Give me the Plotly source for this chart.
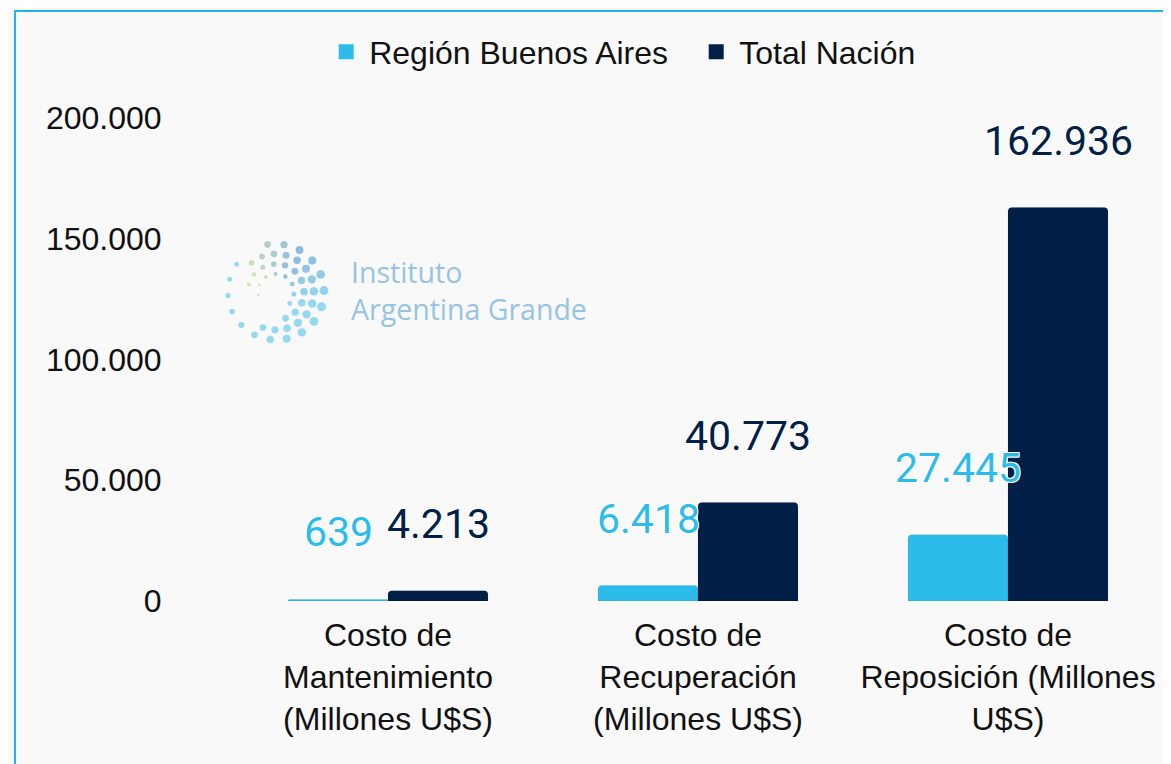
import math
import plotly.graph_objects as go

categorias = [
    "Costo de<br>Mantenimiento<br>(Millones U$S)",
    "Costo de<br>Recuperación<br>(Millones U$S)",
    "Costo de<br>Reposición (Millones<br>U$S)",
]
series = ["Región Buenos Aires", "Total Nación"]
region_ba = [639, 6418, 27445]
total_nacion = [4213, 40773, 162936]
y_ticks = [0, 50000, 100000, 150000, 200000]

CELESTE = "#2BBCEC"
AZUL = "#011F47"
FONDO = "#F9F9F9"


def fmt(v):
    return f"{v:,}".replace(",", ".")


fig = go.Figure()
for nombre, vals, color in [(series[0], region_ba, CELESTE), (series[1], total_nacion, AZUL)]:
    fig.add_trace(go.Bar(x=categorias, y=vals, name=nombre, showlegend=False,
                         marker=dict(color=color, cornerradius=4,
                                     line=dict(color="rgba(0,0,0,0.15)", width=0.5))))
    # entrada de leyenda con cuadrado grande
    fig.add_trace(go.Scatter(x=[None], y=[None], mode="markers", name=nombre,
                             marker=dict(symbol="square", size=15, color=color)))

halo = "-1px -1px 0 white, 1px -1px 0 white, -1px 1px 0 white, 1px 1px 0 white"
for serie, color, dx in [(region_ba, CELESTE, -50), (total_nacion, AZUL, 50)]:
    for cat, v in zip(categorias, serie):
        fig.add_annotation(x=cat, y=v, xref="x", yref="y", text=fmt(v),
                           showarrow=False, xshift=dx, yshift=67, yanchor="middle",
                           font=dict(family="Roboto", size=41, color=color, shadow=halo))

# marco celeste
fig.add_shape(type="rect", xref="paper", yref="paper", x0=-0.2344, x1=1.2,
              y0=-0.6, y1=1.2215, line=dict(color="#1DB5EA", width=2), layer="below")

# logo (marca de agua): espiral de puntos
lx, ly = 0.0462, 0.64
verde = (210, 228, 155)
azul1 = (125, 178, 218)
cian = (132, 212, 240)


def mezcla(a, b, t):
    return tuple(int(a[i] + (b[i] - a[i]) * t) for i in range(3))


anillos = [  # radio, angulo inicial, angulo final, n puntos, tamano
    (48, 100, -215, 17, 9.0),
    (38, 130, -110, 14, 8.5),
    (28, 165, -70, 11, 7.5),
    (18, 190, -40, 8, 5.0),
]
for r, a0, a1, n, size in anillos:
    for k in range(n):
        a = a0 + (a1 - a0) * k / (n - 1)
        if a > 60:
            col = mezcla(verde, azul1, max(0.0, min(1.0, (150 - a) / 90)))
        else:
            col = mezcla(azul1, cian, max(0.0, min(1.0, (60 - a) / 80)))
        s = size * (0.55 + 0.45 * math.cos(math.radians((a + 10) / 2.2)) ** 2)
        px, py = r * math.cos(math.radians(a)), r * math.sin(math.radians(a))
        fig.add_shape(type="circle", xref="paper", yref="paper",
                      xsizemode="pixel", ysizemode="pixel", xanchor=lx, yanchor=ly,
                      x0=px - s / 2, x1=px + s / 2, y0=py - s / 2, y1=py + s / 2,
                      fillcolor="rgba(%d,%d,%d,0.85)" % col, line=dict(width=0),
                      layer="below")

fig.add_annotation(xref="paper", yref="paper", x=0.125, y=0.642, xanchor="left",
                   yanchor="middle", align="left", showarrow=False,
                   text="Instituto<br>Argentina Grande",
                   font=dict(family="Open Sans", size=28.5, color="#96C4E5"))

fig.update_layout(
    width=1171, height=764,
    margin=dict(l=225, r=16, t=110, b=171),
    paper_bgcolor=FONDO, plot_bgcolor=FONDO,
    barmode="group", bargap=0.355, bargroupgap=0,
    separators=",.",
    font=dict(family="Liberation Sans, Arial", size=32, color="#111111"),
    showlegend=True,
    legend=dict(orientation="h", x=0.097, xanchor="left", y=1.137, yanchor="middle",
                font=dict(size=32, color="#111111"), bgcolor="rgba(0,0,0,0)",
                itemwidth=36, entrywidth=319, entrywidthmode="pixels"),
    xaxis=dict(showgrid=False, showline=False, ticks="outside", ticklen=6,
               tickcolor="rgba(0,0,0,0)", tickfont=dict(size=32)),
    yaxis=dict(range=[0, 200000], tickvals=y_ticks, tickformat=",d", showgrid=False,
               zeroline=False, showline=False, ticks="outside", ticklen=64,
               tickcolor="rgba(0,0,0,0)", tickfont=dict(size=32)),
)

fig.write_html("out.html")
